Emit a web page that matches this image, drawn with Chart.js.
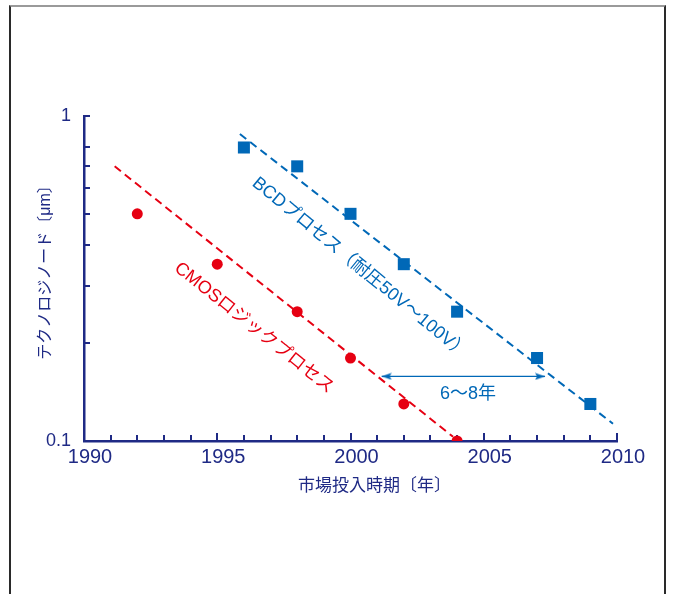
<!DOCTYPE html>
<html>
<head>
<meta charset="utf-8">
<script src="https://cdn.jsdelivr.net/npm/chart.js@4"></script>
<style>
html,body{margin:0;padding:0;background:#fff;}
#wrap{position:relative;width:673px;height:594px;overflow:hidden;}
#frame{position:absolute;left:9px;top:5px;width:653px;height:600px;border:2px solid #2a2a2a;border-top-color:#9a9a9a;border-bottom:none;pointer-events:none;}
canvas{position:absolute;left:0;top:0;}
</style>
</head>
<body>
<div id="wrap"><canvas id="c" width="673" height="594"></canvas><div id="frame"></div></div>
<script>
// ---- data ----
const cmosYears = [1992, 1995, 1998, 2000, 2002, 2004];
const cmosNodes = [0.5, 0.35, 0.25, 0.18, 0.13, 0.1];
const bcdYears = [1996, 1998, 2000, 2002, 2004, 2007, 2009];
const bcdNodes = [0.8, 0.7, 0.5, 0.35, 0.25, 0.18, 0.13];
const cmosTrendYears = [1991.15, 2003.85];
const cmosTrendNodes = [0.70, 0.103];
const bcdTrendYears = [1995.85, 2009.85];
const bcdTrendNodes = [0.88, 0.113];
const gapArrowYears = [2001.17, 2007.3];
const gapArrowNodes = [0.158, 0.158];
const xLabelYears = [1990, 1995, 2000, 2005, 2010];
const xMinorYears = [1991,1992,1993,1994,1996,1997,1998,1999,2001,2002,2003,2004,2006,2007,2008,2009];
const yLabelValues = [0.1, 1];
const yLabelTexts = ['0.1', '1'];
const yTickValues = [0.2, 0.3, 0.4, 0.5, 0.6, 0.7, 0.8, 1];
const annotationTexts = ['BCDプロセス（耐圧50V〜100V）', 'CMOSロジックプロセス', '6〜8年'];
const annotationYears = [2000.36, 1996.38, 2004.41];
const annotationNodes = [0.3405, 0.2228, 0.1395];
const xTitle = '市場投入時期〔年〕';
const yTitle = 'テクノロジノード〔μm〕';

// ---- styles ----
const NAVY = '#1f2a85';
const RED = '#e60012';
const BLUE = '#0068b7';
const FONT = "'Liberation Sans','Noto Sans CJK JP',sans-serif";

// arrowhead image (tip at image centre, pointing right)
const arrowImg = document.createElement('canvas');
arrowImg.width = 22; arrowImg.height = 8;
(function(){
  const g = arrowImg.getContext('2d');
  g.fillStyle = BLUE;
  g.beginPath(); g.moveTo(11, 4); g.lineTo(1, 0.5); g.lineTo(3, 4); g.lineTo(1, 7.5); g.closePath(); g.fill();
})();

const toPts = (xs, ys) => xs.map((x, i) => ({x: x, y: ys[i]}));

const innerTicks = {
  id: 'innerTicks',
  beforeDatasetsDraw(chart) {
    const {ctx} = chart; const x = chart.scales.x, y = chart.scales.y;
    ctx.save(); ctx.strokeStyle = NAVY; ctx.lineWidth = 2;
    const seg = (a, b, c, d) => { ctx.beginPath(); ctx.moveTo(a, b); ctx.lineTo(c, d); ctx.stroke(); };
    const yb = y.bottom;
    xMinorYears.forEach(v => { const p = Math.round(x.getPixelForValue(v)); seg(p, yb, p, yb - 6); });
    xLabelYears.forEach(v => { const p = Math.round(x.getPixelForValue(v)); seg(p, yb, p, yb - 8); });
    const xl = x.left;
    yTickValues.forEach(v => { const p = Math.round(y.getPixelForValue(v)); seg(xl, p, xl + 6, p); });
    ctx.restore();
  }
};

const textLabels = {
  id: 'textLabels',
  afterDatasetsDraw(chart) {
    const {ctx, chartArea} = chart; const x = chart.scales.x, y = chart.scales.y;
    const slope = (xs, ys) => Math.atan2(y.getPixelForValue(ys[1]) - y.getPixelForValue(ys[0]), x.getPixelForValue(xs[1]) - x.getPixelForValue(xs[0]));
    const angles = [slope(bcdTrendYears, bcdTrendNodes) + 0.03, slope(cmosTrendYears, cmosTrendNodes), 0];
    const colors = [BLUE, RED, BLUE];
    annotationTexts.forEach((t, i) => {
      ctx.save();
      ctx.translate(x.getPixelForValue(annotationYears[i]), y.getPixelForValue(annotationNodes[i]));
      ctx.rotate(angles[i]);
      ctx.fillStyle = colors[i];
      ctx.font = '18px ' + FONT;
      ctx.textAlign = 'center'; ctx.textBaseline = 'middle';
      ctx.fillText(t, 0, 0);
      ctx.restore();
    });
    // axis titles
    ctx.save();
    ctx.fillStyle = NAVY;
    ctx.textAlign = 'center'; ctx.textBaseline = 'middle';
    ctx.font = '17px ' + FONT;
    ctx.fillText(xTitle, (chartArea.left + chartArea.right) / 2 + 24, chartArea.bottom + 45);
    ctx.translate(chartArea.left - 38, (chartArea.top + chartArea.bottom) / 2 - 10);
    ctx.rotate(-Math.PI / 2);
    ctx.font = '16px ' + FONT;
    ctx.fillText(yTitle, 0, 0);
    ctx.restore();
  }
};

new Chart(document.getElementById('c'), {
  type: 'scatter',
  data: {
    datasets: [
      { label: 'CMOS', data: toPts(cmosYears, cmosNodes), pointStyle: 'circle', pointRadius: 5.5,
        backgroundColor: RED, borderColor: RED, borderWidth: 0, showLine: false, order: 0 },
      { label: 'BCD', data: toPts(bcdYears, bcdNodes), pointStyle: 'rect', pointRadius: 8.5,
        backgroundColor: BLUE, borderColor: BLUE, borderWidth: 0, showLine: false, order: 0 },
      { label: 'CMOS trend', type: 'line', data: toPts(cmosTrendYears, cmosTrendNodes), borderColor: RED,
        borderWidth: 2, borderDash: [8, 5], pointRadius: 0, fill: false, order: 2 },
      { label: 'BCD trend', type: 'line', data: toPts(bcdTrendYears, bcdTrendNodes), borderColor: BLUE,
        borderWidth: 2, borderDash: [8, 5], pointRadius: 0, fill: false, order: 2 },
      { label: 'gap', type: 'line', data: toPts(gapArrowYears, gapArrowNodes), borderColor: BLUE,
        borderWidth: 1.3, pointStyle: arrowImg, pointRadius: 1, pointRotation: [180, 0], fill: false, order: 1 }
    ]
  },
  options: {
    responsive: false, animation: false, events: [],
    layout: { padding: { left: 0, top: 116, right: 56, bottom: 94 } },
    plugins: { legend: { display: false }, tooltip: { enabled: false } },
    scales: {
      x: {
        type: 'linear', min: 1990, max: 2010, position: 'bottom',
        afterBuildTicks: s => { s.ticks = xLabelYears.map(v => ({value: v})); },
        afterFit: s => { s.height = 59; },
        grid: { display: true, drawOnChartArea: false, drawTicks: false },
        border: { display: true, color: NAVY, width: 2.5 },
        ticks: { color: NAVY, font: { family: FONT, size: 20 }, padding: 4, labelOffset: 6,
                 maxRotation: 0, autoSkip: false, callback: v => String(v) },
        title: { display: false }
      },
      y: {
        type: 'logarithmic', min: 0.1, max: 1,
        afterBuildTicks: s => { s.ticks = yLabelValues.map(v => ({value: v})); },
        afterFit: s => { s.width = 84; },
        grid: { display: true, drawOnChartArea: false, drawTicks: false },
        border: { display: true, color: NAVY, width: 2.5 },
        ticks: { color: NAVY, font: { family: FONT, size: 18 }, padding: 13, autoSkip: false,
                 callback: v => yLabelTexts[yLabelValues.indexOf(v)] },
        title: { display: false }
      }
    }
  },
  plugins: [innerTicks, textLabels]
});
</script>
</body>
</html>
